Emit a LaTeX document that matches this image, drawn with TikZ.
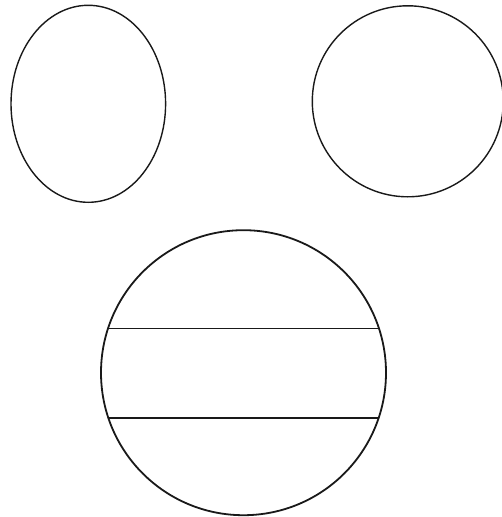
\documentclass[tikz,border=0pt]{standalone}
\begin{document}
\begin{tikzpicture}[x=1pt,y=-1pt,
  shapeline/.style={draw=black!90,line width=1.4pt},
  bandline/.style={draw=black!90,line width=1.3pt}]
\useasboundingbox (0,0) rectangle (502,517);
\draw[shapeline] (88.3,103.8) ellipse [x radius=77.3, y radius=98.5];
\draw[shapeline] (407.8,101.3) circle [radius=95.5];
\draw[shapeline,line width=1.8pt] (243.5,372.7) circle [radius=142.5];
\coordinate (a1) at (108.6,328.5);
\coordinate (a2) at (378.4,328.5);
\coordinate (b1) at (108.6,418);
\coordinate (b2) at (378.4,418);
\draw[bandline] (a1) -- (a2);
\draw[bandline] (b1) -- (b2);
\end{tikzpicture}
\end{document}
